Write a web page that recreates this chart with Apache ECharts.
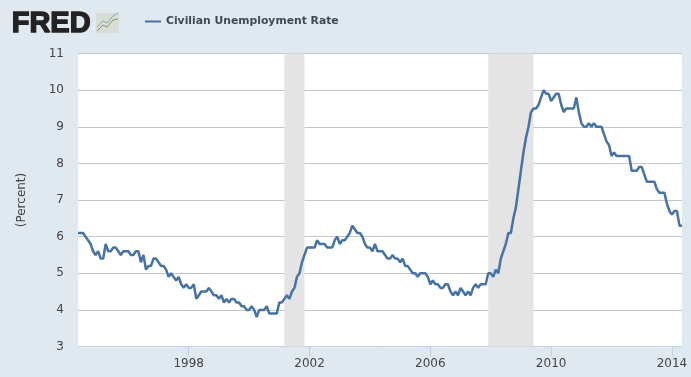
<!DOCTYPE html>
<html>
<head>
<meta charset="utf-8">
<style>
html, body { margin: 0; padding: 0; background: #e1e9f0; }
#chart { width: 691px; height: 377px; }
</style>
<script src="https://cdn.jsdelivr.net/npm/echarts@6/dist/echarts.min.js"></script>
</head>
<body>
<div id="chart"></div>
<script>
var startYear = 1994;
var startMonth = 5;
// monthly values, May 1994 to May 2014
var unemployment = [
    6.1, 6.1, 6.1, 6.0, 5.9, 5.8, 5.6, 5.5,
    5.6, 5.4, 5.4, 5.8, 5.6, 5.6, 5.7, 5.7, 5.6, 5.5, 5.6, 5.6,
    5.6, 5.5, 5.5, 5.6, 5.6, 5.3, 5.5, 5.1, 5.2, 5.2, 5.4, 5.4,
    5.3, 5.2, 5.2, 5.1, 4.9, 5.0, 4.9, 4.8, 4.9, 4.7, 4.6, 4.7,
    4.6, 4.6, 4.7, 4.3, 4.4, 4.5, 4.5, 4.5, 4.6, 4.5, 4.4, 4.4,
    4.3, 4.4, 4.2, 4.3, 4.2, 4.3, 4.3, 4.2, 4.2, 4.1, 4.1, 4.0,
    4.0, 4.1, 4.0, 3.8, 4.0, 4.0, 4.0, 4.1, 3.9, 3.9, 3.9, 3.9,
    4.2, 4.2, 4.3, 4.4, 4.3, 4.5, 4.6, 4.9, 5.0, 5.3, 5.5, 5.7,
    5.7, 5.7, 5.7, 5.9, 5.8, 5.8, 5.8, 5.7, 5.7, 5.7, 5.9, 6.0,
    5.8, 5.9, 5.9, 6.0, 6.1, 6.3, 6.2, 6.1, 6.1, 6.0, 5.8, 5.7,
    5.7, 5.6, 5.8, 5.6, 5.6, 5.6, 5.5, 5.4, 5.4, 5.5, 5.4, 5.4,
    5.3, 5.4, 5.2, 5.2, 5.1, 5.0, 5.0, 4.9, 5.0, 5.0, 5.0, 4.9,
    4.7, 4.8, 4.7, 4.7, 4.6, 4.6, 4.7, 4.7, 4.5, 4.4, 4.5, 4.4,
    4.6, 4.5, 4.4, 4.5, 4.4, 4.6, 4.7, 4.6, 4.7, 4.7, 4.7, 5.0,
    5.0, 4.9, 5.1, 5.0, 5.4, 5.6, 5.8, 6.1, 6.1, 6.5, 6.8, 7.3,
    7.8, 8.3, 8.7, 9.0, 9.4, 9.5, 9.5, 9.6, 9.8, 10.0, 9.9, 9.9,
    9.7, 9.8, 9.9, 9.9, 9.6, 9.4, 9.5, 9.5, 9.5, 9.5, 9.8, 9.4,
    9.1, 9.0, 9.0, 9.1, 9.0, 9.1, 9.0, 9.0, 9.0, 8.8, 8.6, 8.5,
    8.2, 8.3, 8.2, 8.2, 8.2, 8.2, 8.2, 8.2, 7.8, 7.8, 7.8, 7.9,
    7.9, 7.7, 7.5, 7.5, 7.5, 7.5, 7.3, 7.2, 7.2, 7.2, 6.9, 6.7,
    6.6, 6.7, 6.7, 6.3, 6.3
];
var tickYears = ['1998', '2002', '2006', '2010', '2014'];
var recessions = [['2001-03', '2001-11'], ['2007-12', '2009-06']];

var months = [];
for (var i = 0; i < unemployment.length; i++) {
    var m = startMonth - 1 + i;
    var mm = m % 12 + 1;
    months.push((startYear + Math.floor(m / 12)) + '-' + (mm < 10 ? '0' + mm : mm));
}

function isYearTick(index, value) {
    return tickYears.indexOf(value.slice(0, 4)) >= 0 && value.slice(5) === '01';
}

var chart = echarts.init(document.getElementById('chart'));
chart.setOption({
    animation: false,
    backgroundColor: '#e1e9f0',
    textStyle: { fontFamily: 'DejaVu Sans' },
    grid: { left: 78, right: 9, top: 53.5, bottom: 30.5, backgroundColor: '#fff', show: true, borderWidth: 0 },
    legend: {
        left: 140,
        top: 11,
        icon: 'rect',
        itemWidth: 16,
        itemHeight: 2,
        itemGap: 4,
        textStyle: { fontFamily: 'DejaVu Sans', fontWeight: 'bold', fontSize: 10.8, color: '#3e4a54' },
        data: ['Civilian Unemployment Rate']
    },
    xAxis: {
        type: 'category',
        data: months,
        boundaryGap: false,
        axisLine: { lineStyle: { color: '#c0d0e0', width: 1 } },
        axisTick: { interval: isYearTick, length: 10, lineStyle: { color: '#c0d0e0' } },
        axisLabel: {
            interval: isYearTick,
            formatter: function (value) { return value.slice(0, 4); },
            color: '#444',
            fontSize: 12,
            margin: 11,
            hideOverlap: false
        },
        splitLine: { show: false }
    },
    yAxis: {
        type: 'value',
        min: 3,
        max: 11,
        interval: 1,
        name: '(Percent)',
        nameLocation: 'middle',
        nameGap: 50,
        nameTextStyle: { color: '#444', fontSize: 12 },
        axisLine: { show: false },
        axisTick: { show: false },
        axisLabel: { color: '#444', fontSize: 12, margin: 14, padding: [2, 0, 0, 0] },
        splitLine: { lineStyle: { color: '#c6c6c6', width: 1 } }
    },
    series: [{
        name: 'Civilian Unemployment Rate',
        type: 'line',
        data: unemployment,
        showSymbol: false,
        lineStyle: { color: '#4572a7', width: 2.5 },
        itemStyle: { color: '#4572a7' },
        markArea: {
            silent: true,
            itemStyle: { color: '#e4e4e4' },
            data: recessions.map(function (r) {
                return [{ xAxis: r[0] }, { xAxis: r[1] }];
            })
        }
    }],
    graphic: [
        {
            type: 'text',
            left: 11,
            top: 9,
            style: {
                text: 'FRED',
                font: 'bold 29px "Liberation Sans"',
                fill: '#222',
                stroke: '#222',
                lineWidth: 1.4
            }
        },
        {
            type: 'rect',
            shape: { x: 96, y: 13, width: 23, height: 20 },
            style: { fill: '#d9ddd8' }
        },
        {
            type: 'polyline',
            shape: { points: [[97, 31], [103, 25], [107, 27], [113, 20], [118, 19]] },
            style: { stroke: '#7f9a5a', fill: null, lineWidth: 1 }
        },
        {
            type: 'polyline',
            shape: { points: [[97, 27], [103, 21], [107, 23], [113, 16], [118, 13]] },
            style: { stroke: '#8fa3b5', fill: null, lineWidth: 1 }
        }
    ]
});
</script>
</body>
</html>
